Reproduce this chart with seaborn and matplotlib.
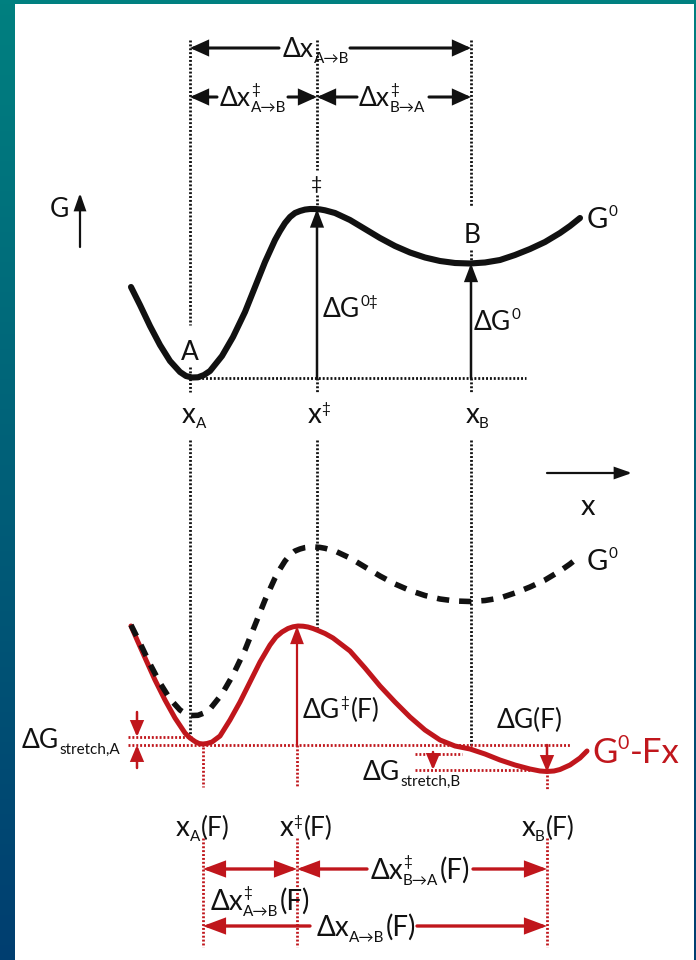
import numpy as np
import pandas as pd
import seaborn as sns
import matplotlib.pyplot as plt
from matplotlib.patches import Rectangle, FancyArrowPatch

sns.set_theme(style="white")
FAMILY = ['Lato', 'DejaVu Sans']
plt.rcParams['font.family'] = FAMILY

# Unloaded free-energy landscape G0 along the reaction coordinate
g0_x = [131, 140, 150, 160, 170, 180, 186, 192, 198, 204, 210, 222, 233, 245, 255,
        265, 275, 280, 285, 290, 295, 300, 305, 310, 315, 320, 325, 335, 350, 365,
        380, 395, 410, 425, 440, 455, 470, 485, 500, 515, 530, 545, 560, 570, 580]
g0_y = [287, 305, 326, 345, 361, 372, 376, 377.5, 377.3, 375, 371, 356, 337, 312, 287,
        262, 240, 231, 223, 217, 213, 211, 209.6, 209, 209, 209.4, 210.3, 213, 220, 229,
        238, 246, 252.5, 257.5, 261, 263, 263.5, 262.5, 260, 255, 249, 242, 233, 226, 218]

# Tilted landscape under force, G0 - F x
gf_x = [131, 138, 146, 155, 165, 175, 185, 190, 195, 199, 203, 207, 212, 220, 230,
        240, 250, 260, 270, 276, 282, 288, 293, 298, 303, 308, 313, 318, 325, 333,
        350, 365, 380, 395, 410, 425, 440, 455, 470, 485, 500, 515, 530, 540, 547,
        554, 560, 570, 580, 587]
gf_y = [626, 642, 660, 680, 700, 718, 733, 738, 741.5, 743.5, 744, 743.5, 742, 736, 720,
        702, 682, 662, 645, 637, 632, 628.5, 626.8, 626, 626.2, 627, 628.5, 630.5, 633.5, 638,
        651, 668, 686, 702, 717, 730, 740, 746, 749, 754, 760, 765, 769, 771, 771.5,
        771, 769.5, 765, 758, 751]

# Marked positions on the reaction coordinate
x_a, x_ts, x_b = 190, 317, 471
xf_a, xf_ts, xf_b = 203, 297, 547

BLACK = '#111111'
RED = '#C0161C'
W, H = 696, 960
SHIFT = 338  # vertical offset of the lower panel
MAIN, SMALL = 19, 11

fig = plt.figure(figsize=(W / 100, H / 100), dpi=100)
ax = fig.add_axes([0, 0, 1, 1])
ax.axis('off')
ax.set_xlim(0, W)
ax.set_ylim(H, 0)
renderer = fig.canvas.get_renderer()

# Background gradient and white panel
top_c = np.array([0, 128, 128]) / 255
bot_c = np.array([0, 62, 112]) / 255
t = np.linspace(0, 1, 256)[:, None, None]
grad = top_c[None, None, :] * (1 - t) + bot_c[None, None, :] * t
ax.imshow(grad, extent=(0, W, H, 0), aspect='auto', zorder=0)
ax.add_patch(Rectangle((15, 4), 679, H, facecolor='white', edgecolor='none', zorder=1))
ax.set_xlim(0, W)
ax.set_ylim(H, 0)


def arrow(p0, p1, color=BLACK, lw=2.2, hl=1.0, hw=0.45, style='-|>'):
    ax.add_patch(FancyArrowPatch(p0, p1, arrowstyle=f'{style},head_length={hl},head_width={hw}',
                                 mutation_scale=10, color=color, lw=lw,
                                 shrinkA=0, shrinkB=0, zorder=5,
                                 joinstyle='miter'))


def dotted(xs, ys, color=BLACK, lw=2.0):
    ax.plot(xs, ys, color=color, lw=lw, linestyle=(0, (0.7, 0.7)),
            dash_capstyle='butt', zorder=3)


def rich(x, y, parts, ha='center', color=BLACK):
    """Draw a label built from pieces: (text, size, baseline shift[, advances[, pad]])."""
    items = []
    cur = 0.0
    for p in parts:
        s, size, dy = p[0], p[1], p[2]
        adv = p[3] if len(p) > 3 else True
        pad = p[4] if len(p) > 4 else 0
        txt = ax.text(0, y + dy, s, fontsize=size, color=color, ha='left',
                      va='baseline', zorder=6, family=FAMILY)
        w = txt.get_window_extent(renderer).width
        items.append((txt, cur))
        if adv:
            cur += w + pad
    x0 = x - cur / 2 if ha == 'center' else x
    for txt, off in items:
        txt.set_x(x0 + off)


# ---- upper panel -------------------------------------------------------
top = pd.DataFrame({'x': g0_x, 'G': g0_y})
sns.lineplot(data=top, x='x', y='G', sort=False, estimator=None, color=BLACK,
             lw=4.4, solid_capstyle='round', solid_joinstyle='round', ax=ax, zorder=4)

# guide lines
dotted([x_a, x_a], [40, 325]); dotted([x_a, x_a], [367, 392]); dotted([x_a, x_a], [440, 737])
dotted([x_ts, x_ts], [40, 170]); dotted([x_ts, x_ts], [195, 209])
dotted([x_ts, x_ts], [378, 392]); dotted([x_ts, x_ts], [440, 628])
dotted([x_b, x_b], [40, 207]); dotted([x_b, x_b], [250, 263])
dotted([x_b, x_b], [378, 392]); dotted([x_b, x_b], [440, 750])
dotted([x_a, 526], [378, 378])

# distance arrows
arrow((279, 48), (x_a, 48)); arrow((350, 48), (x_b, 48))
arrow((217, 97), (x_a, 97)); arrow((288, 97), (x_ts, 97))
arrow((357, 97), (x_ts, 97)); arrow((429, 97), (x_b, 97))
rich(316, 57, [('Δx', MAIN, 0), ('A→B', SMALL, 6)])
rich(253, 106, [('Δx', MAIN, 0), ('‡', SMALL, -12, False), ('A→B', SMALL, 6)])
rich(392, 106, [('Δx', MAIN, 0), ('‡', SMALL, -12, False), ('B→A', SMALL, 6)])

# energy arrows
arrow((x_ts, 378), (x_ts, 209), lw=1.8, hl=1.0, hw=0.38)
arrow((x_b, 378), (x_b, 263.5), lw=1.8, hl=1.0, hw=0.38)
rich(323, 317, [('ΔG', MAIN, 0), ('0‡', SMALL, -11)], ha='left')
rich(474, 330, [('ΔG', MAIN, 0), ('0', SMALL, -11)], ha='left')

# axis arrows
arrow((80, 247), (80, 193), lw=1.6, hl=1.0, hw=0.35)
rich(59, 217, [('G', MAIN, 0)])
arrow((547, 473), (632, 473), lw=1.6, hl=1.0, hw=0.35)
rich(588, 515, [('x', MAIN + 2, 0)])

rich(x_ts, 190, [('‡', 14, 0)])
rich(x_a, 360, [('A', MAIN, 0)])
rich(472, 243, [('B', MAIN, 0)])
rich(587, 228, [('G', MAIN + 2, 0), ('0', SMALL, -12)], ha='left')
rich(194, 423, [('x', MAIN + 1, 0), ('A', SMALL, 5)])
rich(x_ts + 2, 423, [('x', MAIN + 1, 0), ('‡', SMALL, -10)])
rich(477, 423, [('x', MAIN + 1, 0), ('B', SMALL, 5)])

# ---- lower panel -------------------------------------------------------
tilt = pd.DataFrame({'x': gf_x, 'G': gf_y})
sns.lineplot(data=tilt, x='x', y='G', sort=False, estimator=None, color=RED,
             lw=3.6, solid_capstyle='round', solid_joinstyle='round', ax=ax, zorder=4)
lower = top.assign(G=top['G'] + SHIFT)
sns.lineplot(data=lower, x='x', y='G', sort=False, estimator=None, color=BLACK,
             lw=4.0, ax=ax, zorder=4.5)
ax.lines[-1].set_linestyle((0, (2.2, 1.8)))
ax.lines[-1].set_dash_capstyle('butt')

rich(587, 570, [('G', MAIN + 2, 0), ('0', SMALL, -12)], ha='left')
rich(592, 763, [('G', 25, 0), ('0', 14, -14, True, 1), ('-Fx', 25, 0)], ha='left', color=RED)

# red reference levels
dotted([128, 192], [737, 737], RED); dotted([128, 570], [745, 745], RED)
dotted([415, 462], [754, 754], RED); dotted([415, xf_b], [770, 770], RED)
dotted([xf_a, xf_a], [747, 787], RED); dotted([xf_ts, xf_ts], [745, 787], RED)
dotted([xf_b, xf_b], [775, 790], RED)
for xv in (xf_a, xf_ts, xf_b):
    dotted([xv, xv], [838, 947], RED)

# red energy arrows
arrow((137, 712), (137, 737), RED, lw=1.8, hl=0.9, hw=0.38)
arrow((137, 768), (137, 745), RED, lw=1.8, hl=0.9, hw=0.38)
arrow((xf_ts, 745), (xf_ts, 626), RED, lw=1.6, hl=1.0, hw=0.38)
arrow((433, 752), (433, 770), RED, lw=1.8, hl=0.9, hw=0.38)
arrow((xf_b, 745), (xf_b, 772), RED, lw=1.8, hl=0.9, hw=0.38)

rich(22, 748, [('ΔG', MAIN, 0), ('stretch,A', SMALL, 6)], ha='left')
rich(303, 718, [('ΔG', MAIN, 0), ('‡', SMALL, -11, True, 2), ('(F)', MAIN, 0)], ha='left')
rich(497, 728, [('ΔG(F)', MAIN, 0)], ha='left')
rich(363, 780, [('ΔG', MAIN, 0), ('stretch,B', SMALL, 6)], ha='left')

rich(xf_a, 836, [('x', MAIN + 1, 0), ('A', SMALL, 5, True, 1), ('(F)', MAIN, 0)])
rich(306, 836, [('x', MAIN + 1, 0), ('‡', SMALL, -10, True, 2), ('(F)', MAIN, 0)])
rich(548, 836, [('x', MAIN + 1, 0), ('B', SMALL, 5, True, 1), ('(F)', MAIN, 0)])

# red distance arrows
arrow((xf_a, 869), (xf_ts, 869), RED, lw=2.4, hl=1.2, hw=0.45, style='<|-|>')
arrow((367, 869), (xf_ts, 869), RED, lw=2.4, hl=1.2, hw=0.45)
arrow((473, 869), (xf_b, 869), RED, lw=2.4, hl=1.2, hw=0.45)
arrow((310, 926), (xf_a, 926), RED, lw=2.4, hl=1.2, hw=0.45)
arrow((417, 926), (xf_b, 926), RED, lw=2.4, hl=1.2, hw=0.45)
rich(420, 879, [('Δx', MAIN + 1, 0), ('‡', SMALL, -13, False), ('B→A', SMALL, 6, True, 1), ('(F)', MAIN + 1, 0)])
rich(260, 910, [('Δx', MAIN + 1, 0), ('‡', SMALL, -13, False), ('A→B', SMALL, 6, True, 1), ('(F)', MAIN + 1, 0)])
rich(366, 936, [('Δx', MAIN + 1, 0), ('A→B', SMALL, 6, True, 1), ('(F)', MAIN + 1, 0)])

ax.set_xlim(0, W)
ax.set_ylim(H, 0)
fig.savefig('out.png', dpi=100)
